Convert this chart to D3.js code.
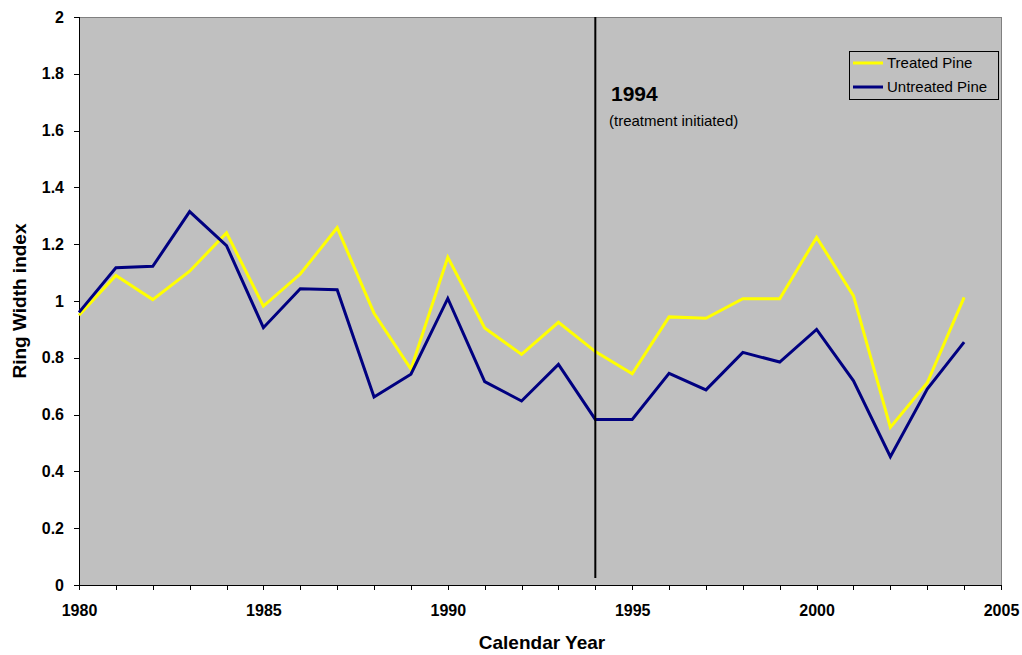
<!DOCTYPE html>
<meta charset="utf-8">
<style>
    body { margin: 0; background: #fff; }
    text { font-family: "Liberation Sans", Arial, sans-serif; }
    .axis text { font-weight: bold; font-size: 16px; fill: #000; }
    .axis path, .axis line { stroke: #000; fill: none; shape-rendering: crispEdges; }
</style>
<body>
<script src="https://d3js.org/d3.v7.min.js"></script>
<script>

    var years = d3.range(1980, 2005);
    var treated = [0.95, 1.09, 1.005, 1.105, 1.24, 0.982, 1.095, 1.258, 0.957, 0.76, 1.154, 0.905, 0.812, 0.925, 0.822, 0.744,
        0.944, 0.939, 1.008, 1.008, 1.224, 1.018, 0.555, 0.712, 1.013];
    var untreated = [0.96, 1.117, 1.122, 1.315, 1.195, 0.906, 1.043, 1.04, 0.662, 0.742, 1.009, 0.716, 0.648, 0.777, 0.583, 0.583,
        0.745, 0.687, 0.819, 0.785, 0.9, 0.719, 0.452, 0.69, 0.855];
    var yTicks = [0, 0.2, 0.4, 0.6, 0.8, 1, 1.2, 1.4, 1.6, 1.8, 2];
    var xLabels = [1980, 1985, 1990, 1995, 2000, 2005];
    var series = [
        {name: "Treated Pine", values: treated, color: "#ffff00"},
        {name: "Untreated Pine", values: untreated, color: "#000080"}
    ];
    var markerYear = 1994;

    var width = 1022, height = 655;
    var pLeft = 79, pRight = 1001, pTop = 17, pBottom = 585;

    var svg = d3.select("body").append("svg")
        .attr("width", width)
        .attr("height", height);

    var x = d3.scaleLinear().domain([1980, 2005]).range([pLeft, pRight]);
    var y = d3.scaleLinear().domain([0, 2]).range([pBottom, pTop]);

    // plot area
    svg.append("rect")
        .attr("x", pLeft).attr("y", pTop)
        .attr("width", pRight - pLeft).attr("height", pBottom - pTop)
        .attr("fill", "#c0c0c0")
        .attr("stroke", "#808080")
        .attr("stroke-width", 1)
        .attr("shape-rendering", "crispEdges");

    // axes
    var yAxis = d3.axisLeft(y).tickValues(yTicks).tickSize(5).tickPadding(10)
        .tickFormat(function(d) { return d3.format("")(d); });
    svg.append("g").attr("class", "axis")
        .attr("transform", "translate(" + pLeft + ",0)")
        .call(yAxis)
        .call(function(g) { g.select(".domain").attr("d", "M0," + pTop + "V" + pBottom); });

    var xAxis = d3.axisBottom(x).tickValues(d3.range(1980, 2006)).tickSize(5).tickPadding(15)
        .tickFormat(function(d) { return xLabels.indexOf(d) >= 0 ? d : ""; });
    svg.append("g").attr("class", "axis")
        .attr("transform", "translate(0," + pBottom + ")")
        .call(xAxis)
        .call(function(g) { g.select(".domain").attr("d", "M" + pLeft + ",0H" + pRight); });

    // lines
    var line = d3.line()
        .x(function(d, i) { return x(years[i]); })
        .y(function(d) { return y(d); });

    series.forEach(function(s) {
        svg.append("path")
            .datum(s.values)
            .attr("d", line)
            .attr("fill", "none")
            .attr("stroke", s.color)
            .attr("stroke-width", 3)
            .attr("stroke-linejoin", "miter");
    });

    // treatment marker
    svg.append("line")
        .attr("x1", x(markerYear)).attr("x2", x(markerYear))
        .attr("y1", y(2)).attr("y2", y(0.025))
        .attr("stroke", "#000").attr("stroke-width", 2);

    svg.append("text")
        .attr("x", 611).attr("y", 101)
        .style("font-size", "21px").style("font-weight", "bold")
        .text("1994");
    svg.append("text")
        .attr("x", 609).attr("y", 126)
        .style("font-size", "15px")
        .text("(treatment initiated)");

    // legend
    var legend = svg.append("g");
    legend.append("rect")
        .attr("x", 849).attr("y", 51).attr("width", 149).attr("height", 48)
        .attr("fill", "#c0c0c0").attr("stroke", "#000").attr("stroke-width", 1)
        .attr("shape-rendering", "crispEdges");
    series.forEach(function(s, i) {
        var ly = 63 + i * 24;
        legend.append("line")
            .attr("x1", 853).attr("x2", 883).attr("y1", ly).attr("y2", ly)
            .attr("stroke", s.color).attr("stroke-width", 3);
        legend.append("text")
            .attr("x", 887).attr("y", ly + 5)
            .style("font-size", "15px")
            .text(s.name);
    });

    // axis titles
    svg.append("text")
        .attr("x", 542).attr("y", 649)
        .attr("text-anchor", "middle")
        .style("font-size", "19px").style("font-weight", "bold")
        .text("Calendar Year");
    svg.append("text")
        .attr("transform", "translate(26," + (pTop + pBottom) / 2 + ") rotate(-90)")
        .attr("text-anchor", "middle")
        .style("font-size", "19px").style("font-weight", "bold")
        .text("Ring Width index");

</script>
